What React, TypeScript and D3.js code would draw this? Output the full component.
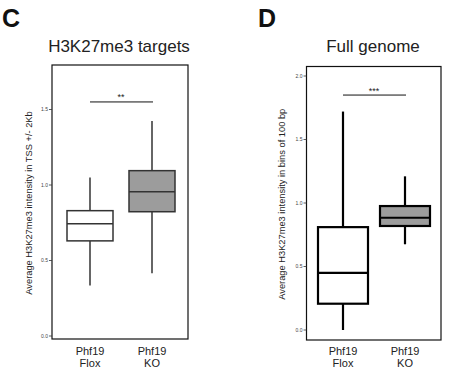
import React from 'react';
import * as d3 from 'd3';

// groups on the x axis
const categories = ['Flox', 'KO'];

// panel C: H3K27me3 targets (TSS +/- 2Kb)
const cMin = [0.335, 0.415];
const cQ1 = [0.63, 0.823];
const cMed = [0.744, 0.956];
const cQ3 = [0.83, 1.095];
const cMax = [1.05, 1.424];
const cTicks = [0.0, 0.5, 1.0, 1.5];
const cSig = '**';

// panel D: full genome (bins of 100 bp)
const dMin = [0.0, 0.675];
const dQ1 = [0.207, 0.819];
const dMed = [0.45, 0.884];
const dQ3 = [0.81, 0.976];
const dMax = [1.72, 1.21];
const dTicks = [0.0, 0.5, 1.0, 1.5, 2.0];
const dSig = '***';

const FONT = 'Liberation Sans, Arial, sans-serif';

function Panel(props) {
  const { letter, letterX, title, titleX, ylabel, labelX, frame, yDomain, yRange, xRange, boxW,
    mins, q1s, meds, q3s, maxs, ticks, sig, sigY, stroke, strokeW } = props;

  const y = d3.scaleLinear().domain(yDomain).range(yRange);
  const x = d3.scalePoint().domain(categories).range(xRange);
  const fills = ['#ffffff', '#9c9c9c'];

  return (
    <g>
      <text x={letterX} y={27} fontSize={25} fontWeight="bold" fill="#111" fontFamily={FONT}>{letter}</text>
      <text x={titleX} y={52} fontSize={17} textAnchor="middle" fill="#222" fontFamily={FONT}>{title}</text>

      {/* frame */}
      <rect x={frame.x0} y={frame.y0} width={frame.x1 - frame.x0} height={frame.y1 - frame.y0}
        fill="none" stroke="#111" strokeWidth={1.2} />

      {/* y ticks */}
      {ticks.map(t => (
        <g key={t}>
          <line x1={frame.x0 - 3} x2={frame.x0} y1={y(t)} y2={y(t)} stroke="#333" strokeWidth={0.8} />
          <text x={frame.x0 - 4} y={y(t) + 1.8} fontSize={5} textAnchor="end" fill="#444" fontFamily={FONT}>
            {d3.format('.1f')(t)}
          </text>
        </g>
      ))}

      {/* y label */}
      <text transform={`translate(${labelX},${(frame.y0 + frame.y1) / 2 + 1}) rotate(-90)`}
        fontSize={9.3} textAnchor="middle" fill="#222" fontFamily={FONT}>{ylabel}</text>

      {/* boxes */}
      {categories.map((c, i) => {
        const cx = x(c);
        return (
          <g key={c}>
            <line x1={cx} x2={cx} y1={y(maxs[i])} y2={y(q3s[i])} stroke={stroke} strokeWidth={strokeW} />
            <line x1={cx} x2={cx} y1={y(q1s[i])} y2={y(mins[i])} stroke={stroke} strokeWidth={strokeW} />
            <rect x={cx - boxW / 2} y={y(q3s[i])} width={boxW} height={y(q1s[i]) - y(q3s[i])}
              fill={fills[i]} stroke={stroke} strokeWidth={strokeW} />
            <line x1={cx - boxW / 2} x2={cx + boxW / 2} y1={y(meds[i])} y2={y(meds[i])} stroke={stroke} strokeWidth={strokeW} />
            <text x={cx} y={355} fontSize={11} textAnchor="middle" fill="#222" fontFamily={FONT}>Phf19</text>
            <text x={cx} y={367} fontSize={11} textAnchor="middle" fill="#222" fontFamily={FONT}>{c}</text>
          </g>
        );
      })}

      {/* significance */}
      <line x1={x(categories[0])} x2={x(categories[1]) + 1} y1={y(sigY)} y2={y(sigY)} stroke="#111" strokeWidth={1} />
      <text x={(x(categories[0]) + x(categories[1])) / 2} y={y(sigY) - 1.5} fontSize={9} textAnchor="middle"
        fill="#222" fontFamily={FONT}>{sig}</text>
    </g>
  );
}

export default function App() {
  return (
    <svg width={457} height={389} style={{ display: 'block', position: 'absolute', left: 0, top: 0 }}>
      <rect width={457} height={389} fill="#fff" />
      <Panel letter="C" letterX={2} title="H3K27me3 targets" titleX={119}
        ylabel="Average H3K27me3 intensity in TSS +/- 2Kb" labelX={32}
        frame={{ x0: 52, x1: 188, y0: 65, y1: 339 }}
        yDomain={[0, 1.5]} yRange={[336, 109.5]} xRange={[90, 152]} boxW={46}
        mins={cMin} q1s={cQ1} meds={cMed} q3s={cQ3} maxs={cMax}
        ticks={cTicks} sig={cSig} sigY={1.55} stroke="#333" strokeW={1.5} />
      <Panel letter="D" letterX={258} title="Full genome" titleX={373}
        ylabel="Average H3K27me3 intensity in bins of 100 bp" labelX={285}
        frame={{ x0: 306.5, x1: 441, y0: 66.5, y1: 340 }}
        yDomain={[0, 2]} yRange={[330, 76]} xRange={[343, 405]} boxW={50}
        mins={dMin} q1s={dQ1} meds={dMed} q3s={dQ3} maxs={dMax}
        ticks={dTicks} sig={dSig} sigY={1.85} stroke="#000" strokeW={2.2} />
    </svg>
  );
}
